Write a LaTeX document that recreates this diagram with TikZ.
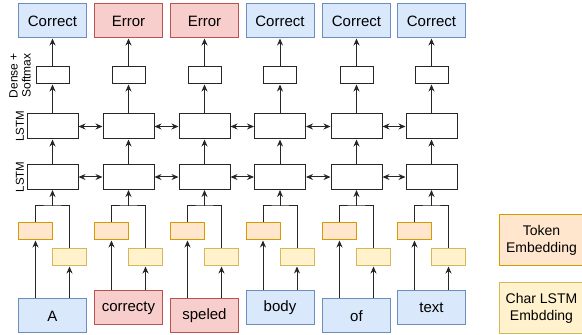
\documentclass[tikz,border=0pt]{standalone}
\usepackage{fontspec}
\setmainfont{Liberation Sans}
\usetikzlibrary{arrows.meta}
\definecolor{bluefill}{HTML}{DAE8FC}
\definecolor{bluedraw}{HTML}{6C8EBF}
\definecolor{redfill}{HTML}{F8CECC}
\definecolor{reddraw}{HTML}{B85450}
\definecolor{orfill}{HTML}{FFE6CC}
\definecolor{ordraw}{HTML}{D79B00}
\definecolor{yefill}{HTML}{FFF2CC}
\definecolor{yedraw}{HTML}{D6B656}
\tikzset{
  box/.style={draw, line width=1pt, inner sep=0pt, anchor=center},
  bluebox/.style={box, fill=bluefill, draw=bluedraw, minimum width=68pt, minimum height=34pt, font=\fontsize{15}{18}\selectfont},
  redbox/.style={box, fill=redfill, draw=reddraw, minimum width=68pt, minimum height=34pt, font=\fontsize{15}{18}\selectfont},
  densebox/.style={box, draw=black!85, minimum width=33pt, minimum height=17pt},
  lstmbox/.style={box, draw=black!85, minimum width=51pt, minimum height=25pt},
  tokbox/.style={box, fill=orfill, draw=ordraw, minimum width=34pt, minimum height=17pt},
  chrbox/.style={box, fill=yefill, draw=yedraw, minimum width=34pt, minimum height=17pt},
  legbox/.style={box, minimum width=85pt, minimum height=51pt, align=center, font=\fontsize{14}{17}\selectfont},
  sidelabel/.style={rotate=90, align=center, inner sep=0pt},
  arr/.style={-{Stealth[length=7pt,width=6pt]}, line width=1pt, draw=black!85},
  darr/.style={{Stealth[length=7pt,width=6pt]}-{Stealth[length=7pt,width=6pt]}, line width=1pt, draw=black!85},
  ln/.style={line width=1pt, draw=black!85}
}
\begin{document}
\begin{tikzpicture}[x=1pt,y=1pt]
\useasboundingbox (0,0) rectangle (582,335);
\foreach \i/\c/\o/\os/\w/\ws/\wy in {
  1/52.5/Correct/bluebox/A/bluebox/316,
  2/128.5/Error/redbox/correcty/redbox/308,
  3/204.5/Error/redbox/speled/redbox/316,
  4/280/Correct/bluebox/body/bluebox/308,
  5/356.5/Correct/bluebox/of/bluebox/316,
  6/431.5/Correct/bluebox/text/bluebox/308}{
  \node[\os] (out\i) at (\c, 335-21) {\o};
  \node[densebox] (dense\i) at (\c, 335-75.5) {};
  \node[lstmbox] (lstmb\i) at (\c, 335-126.5) {};
  \node[lstmbox] (lstma\i) at (\c, 335-177) {};
  \coordinate (j\i) at (\c, 335-206);
  \node[tokbox] (tok\i) at (\c-17, 335-231.5) {};
  \node[chrbox] (chr\i) at (\c+17, 335-257.5) {};
  \node[\ws] (word\i) at (\c, 335-\wy) {\w};
  \draw[arr] (dense\i.north) -- (out\i.south);
  \draw[arr] (lstmb\i.north) -- (dense\i.south);
  \draw[arr] (lstma\i.north) -- (lstmb\i.south);
  \draw[arr] (j\i) -- (lstma\i.south);
  \draw[ln] (tok\i.north) |- (j\i) -| (chr\i.north);
  \draw[arr] (tok\i.south |- word\i.north) -- (tok\i.south);
  \draw[arr] (chr\i.south |- word\i.north) -- (chr\i.south);
}
\foreach \i in {1,...,5}{
  \pgfmathtruncatemacro{\j}{\i+1}
  \draw[darr] (lstmb\i.east) -- (lstmb\j.west);
  \draw[darr] (lstma\i.east) -- (lstma\j.west);
}
\node[sidelabel, font=\fontsize{12}{13}\selectfont] (lbldense) at (20, 335-75.5) {Dense +\\Softmax};
\node[sidelabel, font=\fontsize{11.5}{13}\selectfont] (lbllstmb) at (20, 335-126.5) {LSTM};
\node[sidelabel, font=\fontsize{11.5}{13}\selectfont] (lbllstma) at (20, 335-177) {LSTM};
\node[legbox, fill=orfill, draw=ordraw] (legtok) at (541.5, 335-240) {Token\\Embedding};
\node[legbox, fill=yefill, draw=yedraw] (legchr) at (541.5, 335-308) {Char LSTM\\Embdding};
\end{tikzpicture}
\end{document}
